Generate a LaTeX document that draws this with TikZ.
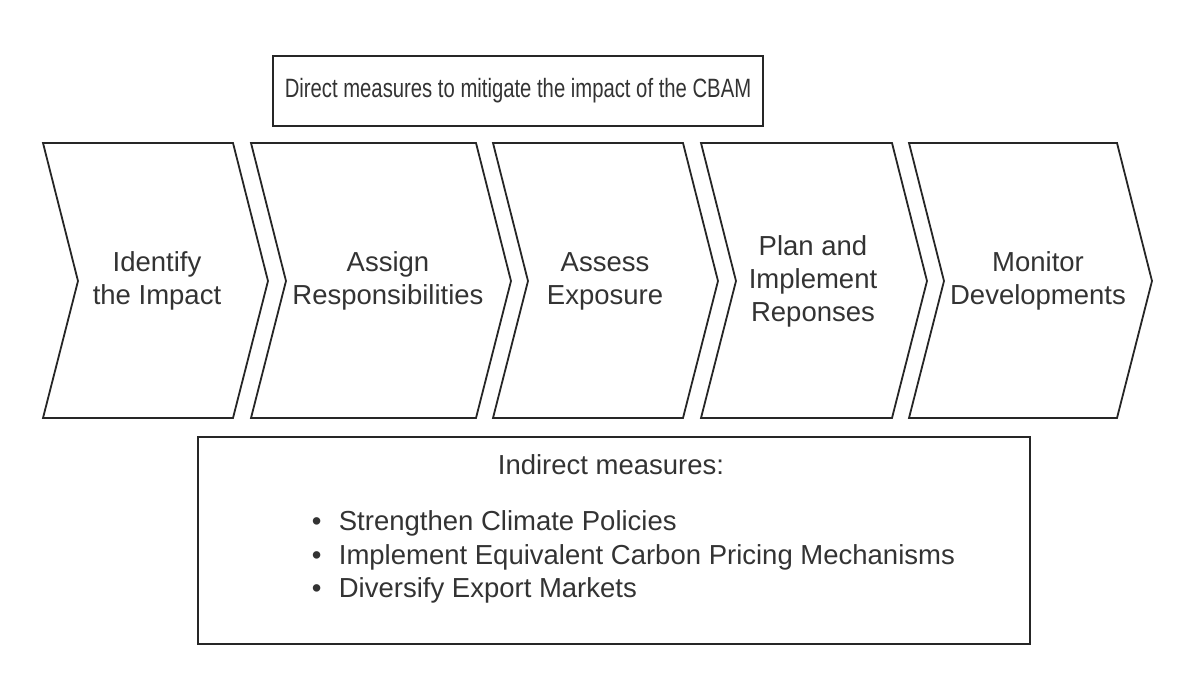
\documentclass[tikz,border=0pt]{standalone}
\usepackage{fontspec}
\setmainfont{Liberation Sans}
\usetikzlibrary{positioning}

\begin{document}
\begin{tikzpicture}[x=0.5pt,y=-0.5pt,line width=0.9pt]
  \tikzstyle{chev}=[draw=black!85,line join=miter]
  \tikzstyle{lbl}=[align=center,text=black!80,font=\fontsize{13.75}{16.5}\selectfont]
  \tikzstyle{box}=[draw=black!85,inner sep=0pt]
  \useasboundingbox (0,0) rectangle (1200,700);
  % chevrons: left edge / top right corner / text centre
  \foreach \l/\r/\c/\n/\t in {43/233/157/idf/{Identify\\the Impact},
      251/476/388/asg/{Assign\\Responsibilities},
      493/683/605/ass/{Assess\\Exposure},
      701/892/813/pln/{Plan and\\Implement\\Reponses},
      909/1117/1038/mon/{Monitor\\Developments}} {
    \draw[chev] (\l,143) -- (\r,143) -- (\r+35,281) -- (\r,418) -- (\l,418) -- (\l+35,281) -- cycle;
    \node[lbl] (\n) at (\c,281) {\t};
  }
  \node[box,minimum width=245pt,minimum height=35pt] (direct) at (518,91) {};
  \node[lbl,font=\fontsize{13.25}{16}\selectfont] (directtxt) at (direct.center)
    {\scalebox{0.765}[1]{Direct measures to mitigate the impact of the CBAM}};
  \node[box,minimum width=416pt,minimum height=103.5pt] (indirect) at (614,540.5) {};
  \node[lbl] (indtitle) at (611,465) {Indirect measures:};
  \node[lbl,align=left,anchor=west,inner sep=0pt,font=\fontsize{13.75}{16.75}\selectfont] (indlist) at (311,557)
    {\makebox[13.5pt][l]{\textbullet}Strengthen Climate Policies\\
     \makebox[13.5pt][l]{\textbullet}Implement Equivalent Carbon Pricing Mechanisms\\
     \makebox[13.5pt][l]{\textbullet}Diversify Export Markets};
\end{tikzpicture}
\end{document}
